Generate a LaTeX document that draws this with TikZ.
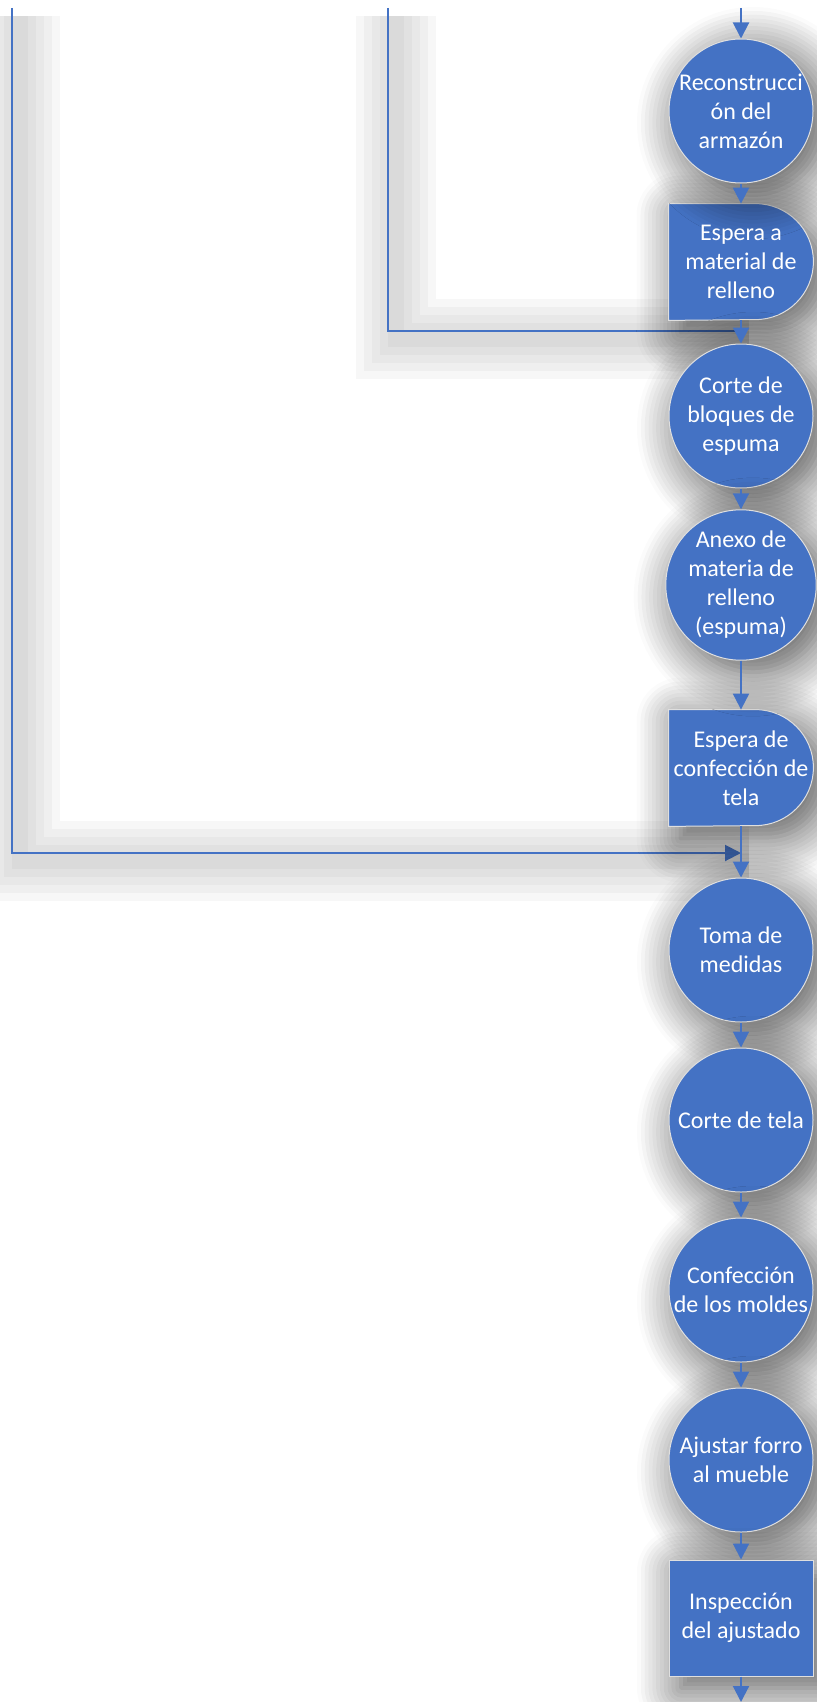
\documentclass[tikz,border=0pt]{standalone}
\usepackage{fontspec}
\setmainfont{Carlito}
\usetikzlibrary{arrows.meta,shadows.blur}
\definecolor{ofblue}{HTML}{4472C4}
\pgfdeclarelayer{back}
\pgfdeclarelayer{front}
\pgfsetlayers{back,main,front}
\tikzset{
  shade/.style={blur shadow={shadow xshift=6pt, shadow yshift=-6pt, shadow blur radius=22pt, shadow blur steps=12, shadow opacity=70}},
  opbox/.style={circle, fill=ofblue, draw=white!75!gray, line width=0.5pt, minimum size=72pt, inner sep=0pt,
    text=white, align=center, font=\fontsize{12}{14.5}\selectfont, shade},
  waitbox/.style={rectangle, minimum width=72pt, minimum height=58pt, inner sep=0pt,
    text=white, align=center, font=\fontsize{12}{14.5}\selectfont},
  waitfill/.style={fill=ofblue, draw=white!75!gray, line width=0.5pt, shade},
  inspbox/.style={opbox, rectangle, minimum width=72pt, minimum height=58pt},
  flow/.style={draw=ofblue, line width=1pt},
  lineshade/.style={draw=none,
    preaction={draw=black, draw opacity=0.03, line width=40pt, transform canvas={shift={(4pt,-4pt)}}},
    preaction={draw=black, draw opacity=0.03, line width=32pt, transform canvas={shift={(4pt,-4pt)}}},
    preaction={draw=black, draw opacity=0.03, line width=24pt, transform canvas={shift={(4pt,-4pt)}}},
    preaction={draw=black, draw opacity=0.03, line width=16pt, transform canvas={shift={(4pt,-4pt)}}},
    preaction={draw=black, draw opacity=0.03, line width=8pt, transform canvas={shift={(4pt,-4pt)}}}}
}
\begin{document}
\begin{tikzpicture}[x=0.5pt, y=-0.5pt, >={Triangle[width=8pt,length=8pt]}, every edge/.style={flow}]
\useasboundingbox (0,0) rectangle (817,1702);

\node[opbox] (C1) at (741,111) {Reconstrucci\\ón del\\armazón};
\node[waitbox] (D1) at (741,262) {Espera a\\material de\\relleno};
\node[opbox] (C2) at (741,416) {Corte de\\bloques de\\espuma};
\node[opbox] (C3) at (741,585) {Anexo de\\materia de\\relleno\\(espuma)};
\node[waitbox] (D2) at (741,768) {Espera de\\confección de\\tela};
\node[opbox] (C4) at (741,950) {Toma de\\medidas};
\node[opbox] (C5) at (741,1120) {Corte de tela};
\node[opbox] (C6) at (741,1290) {Confección\\de los moldes};
\node[opbox] (C7) at (741,1460) {Ajustar forro\\al mueble};
\node[inspbox] (R1) at (741,1618) {Inspección\\del ajustado};

\coordinate (T0) at (741,8);
\coordinate (T1) at (388,8);
\coordinate (T2) at (12,8);
\coordinate (M1) at (741,331);
\coordinate (M2) at (741,853);
\coordinate (B0) at (741,1702);

% long returns and delay shapes
\begin{pgfonlayer}{back}
\path[lineshade] (T1) |- (M1) (T2) |- (M2);
\draw[flow] (T1) |- (M1);
\draw[flow,->] (T2) |- (M2);
\fill[waitfill] (D1.north west) -- ([xshift=-29pt]D1.north east)
  arc[start angle=90, end angle=-90, radius=29pt] -- (D1.south west) -- cycle;
\fill[waitfill] (D2.north west) -- ([xshift=-29pt]D2.north east)
  arc[start angle=90, end angle=-90, radius=29pt] -- (D2.south west) -- cycle;
\end{pgfonlayer}

\begin{pgfonlayer}{front}
\path[->] (T0) edge (C1) (C1) edge (D1) (D1) edge (C2);
\path[->] (C2) edge (C3) (C3) edge (D2) (D2) edge (C4);
\path[->] (C4) edge (C5) (C5) edge (C6) (C6) edge (C7);
\path[->] (C7) edge (R1) (R1) edge (B0);
\end{pgfonlayer}
\end{tikzpicture}
\end{document}
